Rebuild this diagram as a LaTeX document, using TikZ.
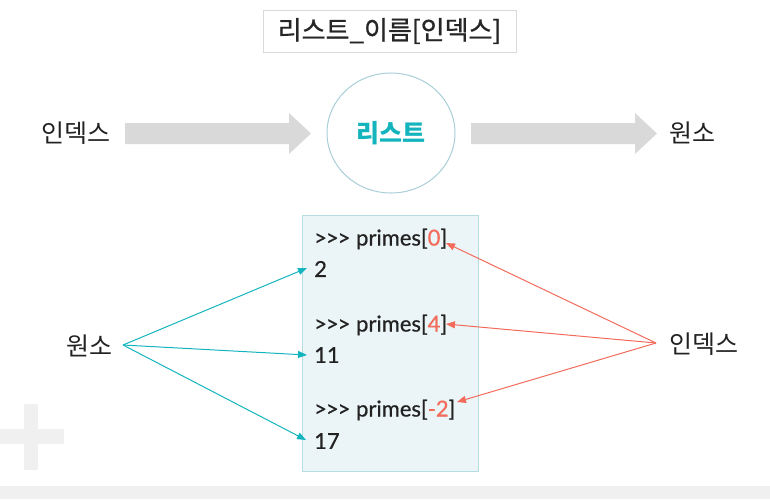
\documentclass[tikz,border=0pt]{standalone}
\usepackage{fontspec}
\setmainfont{Noto Sans CJK KR}
\newfontfamily\codefont[FakeBold=0.6]{Lato}
\newfontfamily\titlefont[FakeBold=0.8]{Noto Sans CJK KR}
\usetikzlibrary{arrows.meta,shapes.geometric}
\definecolor{teal1}{HTML}{14B4BE}
\definecolor{coral}{HTML}{F26B5B}
\definecolor{boxfill}{HTML}{EBF4F6}
\definecolor{boxline}{HTML}{B5DDE2}
\definecolor{circline}{HTML}{A9CED8}
\definecolor{arrgray}{HTML}{D9D9D9}
\definecolor{faint}{HTML}{F0F0F0}
\definecolor{txt}{HTML}{222222}
\tikzset{
  lbl/.style={font=\fontsize{25}{27}\selectfont, text=txt, inner sep=0pt},
  code/.style={font=\codefont\fontsize{22}{24}\selectfont, text=txt, anchor=west, inner sep=0pt},
  tealarr/.style={draw=teal1, line width=1pt, -{Triangle[length=9pt,width=7pt]}},
  coralarr/.style={draw=coral, line width=1pt, -{Triangle[length=9pt,width=7pt]}},
}
\begin{document}
\begin{tikzpicture}[x=1pt,y=-1pt]
\useasboundingbox (0,0) rectangle (770,499);
% background decorations
\fill[faint] (0,486) rectangle (770,499);
\fill[faint] (24,404) rectangle (38,470);
\fill[faint] (0,429) rectangle (64,444);
% title
\node[draw=black!15, line width=1pt, minimum width=253pt, minimum height=42pt, inner sep=0pt,
      font=\titlefont\fontsize{26}{28}\selectfont, text=black!85] (title) at (389.5,31) {리스트\_이름[인덱스]};
% top row
\node[lbl] (idxL) at (76,133) {인덱스};
\node[draw=circline, line width=1pt, ellipse, minimum width=128pt, minimum height=120pt, inner sep=0pt,
      font=\fontsize{25}{27}\selectfont\bfseries, text=teal1] (list) at (391,133) {리스트};
\node[lbl] (elemR) at (692,133) {원소};
% gray arrows
\coordinate (a1s) at (125,123);
\fill[arrgray] (a1s) -- (289,123) -- (289,113) -- (311,133.5) -- (289,154) -- (289,144) -- (125,144) -- cycle;
\coordinate (a2s) at (471,123);
\fill[arrgray] (a2s) -- (635,123) -- (635,113) -- (657,133.5) -- (635,154) -- (635,144) -- (471,144) -- cycle;
% code box
\node[draw=boxline, fill=boxfill, line width=1pt, minimum width=176pt, minimum height=256pt, inner sep=0pt] (codebox) at (390,343) {};
\node[code] (c1) at (314,239) {>{\kern-1pt}>{\kern-1pt}> primes[\textcolor{coral}{0}]};
\node[code] (v1) at (314,269) {2};
\node[code] (c2) at (314,325) {>{\kern-1pt}>{\kern-1pt}> primes[\textcolor{coral}{4}]};
\node[code] (v2) at (314,355) {11};
\node[code] (c3) at (314,410) {>{\kern-1pt}>{\kern-1pt}> primes[\textcolor{coral}{-2}]};
\node[code] (v3) at (314,441) {17};
% side labels
\node[lbl] (elemL) at (89,346) {원소};
\node[lbl] (idxR) at (704,344) {인덱스};
% teal arrows
\coordinate (tsrc) at (123,345);
\coordinate (t1) at (307,268);
\coordinate (t2) at (307,355);
\coordinate (t3) at (306,440);
\draw[tealarr] (tsrc) -- (t1);
\draw[tealarr] (tsrc) -- (t2);
\draw[tealarr] (tsrc) -- (t3);
% coral arrows
\coordinate (csrc) at (656,343);
\coordinate (k1) at (446,243);
\coordinate (k2) at (446,324);
\coordinate (k3) at (457,402);
\draw[coralarr] (csrc) -- (k1);
\draw[coralarr] (csrc) -- (k2);
\draw[coralarr] (csrc) -- (k3);
\end{tikzpicture}
\end{document}
